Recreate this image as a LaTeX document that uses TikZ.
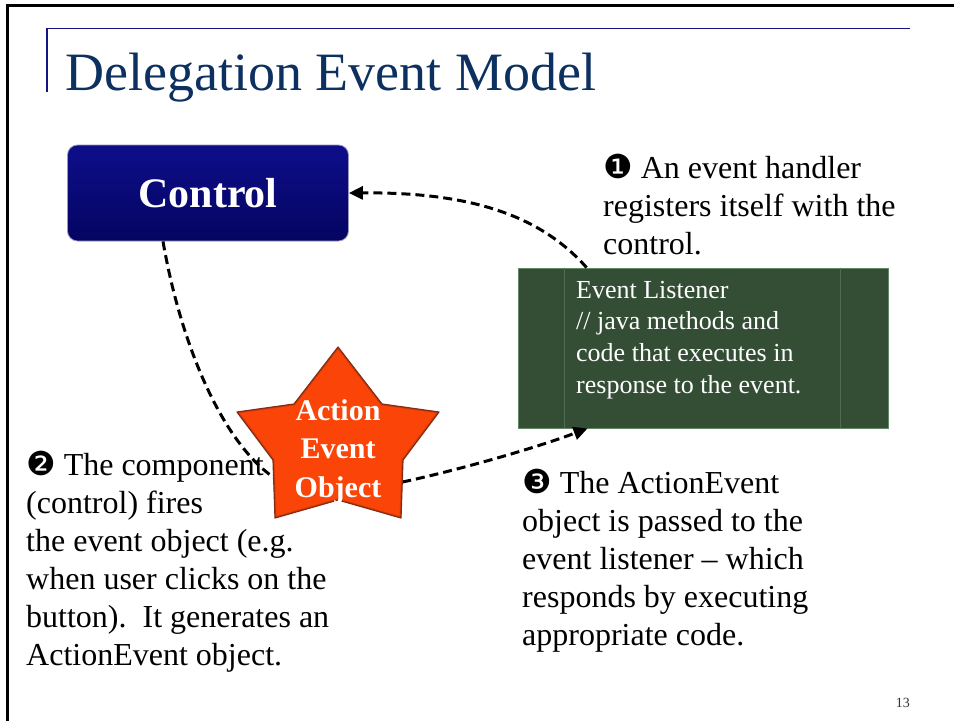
\documentclass[tikz,border=0pt]{standalone}
\usepackage{fontspec}
\setmainfont{Liberation Serif}
\newfontfamily\dingfont{DejaVu Sans}
\usetikzlibrary{arrows.meta,calc}

% colours of the slide
\definecolor{titleblue}{RGB}{12,48,96}
\definecolor{rulecol}{RGB}{20,20,130}
\definecolor{ctrltop}{RGB}{14,14,138}
\definecolor{ctrlbot}{RGB}{4,4,98}
\definecolor{ctrledge}{RGB}{150,150,190}
\definecolor{lstfill}{RGB}{52,78,54}
\definecolor{lstline}{RGB}{78,108,78}
\definecolor{lstedge}{RGB}{100,135,100}
\definecolor{starfill}{RGB}{250,68,8}
\definecolor{starrim}{RGB}{215,58,10}
\definecolor{staredge}{RGB}{130,45,20}

% stacked lines whose baseline is the baseline of the first line
\newcommand\leftlines[1]{\vtop{\halign{##\hfil\cr#1\crcr}}}
\newcommand\centerlines[1]{\vtop{\halign{\hfil##\hfil\cr#1\crcr}}}
\newcommand\numdot[1]{{\dingfont\fontsize{33}{33}\selectfont#1}}

\tikzset{
  bodytext/.style={anchor=base west, inner sep=0pt, font=\fontsize{32}{38}\selectfont},
  ctrlbox/.style={rounded corners=10pt, minimum width=281pt, minimum height=96pt,
    inner sep=0pt, top color=ctrltop, bottom color=ctrlbot, draw=ctrledge, line width=0.8pt,
    text=white, font=\bfseries\fontsize{42}{42}\selectfont},
  lstbox/.style={minimum width=370pt, minimum height=160pt, inner sep=0pt,
    fill=lstfill, draw=lstedge, line width=0.8pt},
  lstdivider/.style={draw=lstline, line width=1pt},
  starshape/.style={fill=starfill, draw=staredge, line width=1.2pt, line join=round},
  starbevel/.style={draw=starrim, line width=3pt, line join=round},
  dashlink/.style={line width=3pt, dash pattern=on 9pt off 5pt, black},
  arrowhead/.style={-{Triangle[length=14pt,width=13pt]}},
}

\begin{document}
\begin{tikzpicture}[x=1pt,y=-1pt]
\useasboundingbox (0,0) rectangle (954,721);
\fill[white] (0,0) rectangle (954,721);

% page frame
\draw[line width=2.5pt] (954,5.5) -- (7.5,5.5) -- (7.5,721);

% title rule and title
\draw[rulecol, line width=1.6pt] (910,28.5) -- (47,28.5) -- (47,92);
\node[anchor=base west, inner sep=0pt, text=titleblue, font=\fontsize{54}{54}\selectfont]
  (title) at (65,90) {Delegation Event Model};

% the control
\node[ctrlbox] (ctrl) at (208,193) {Control};

% the event listener
\node[lstbox] (lst) at (703,348) {};
\draw[lstdivider] ([xshift=47pt]lst.north west) -- ([xshift=47pt]lst.south west);
\draw[lstdivider] ([xshift=323pt]lst.north west) -- ([xshift=323pt]lst.south west);
\node[anchor=base west, inner sep=0pt, text=white, font=\fontsize{26}{31.7}\selectfont]
  (lsttext) at (576,298)
  {\leftlines{Event Listener\cr // java methods and\cr code that executes in\cr response to the event.}};

% corners of the star
\coordinate (sT)  at (338,347);
\coordinate (sUR) at (382,404);
\coordinate (sR)  at (439,412);
\coordinate (sLR) at (403,460);
\coordinate (sBR) at (401,518);
\coordinate (sB)  at (338,500);
\coordinate (sBL) at (275,518);
\coordinate (sLL) at (273,460);
\coordinate (sL)  at (237,412);
\coordinate (sUL) at (294,404);

% connectors
\draw[dashlink, arrowhead] ([xshift=69pt]lst.north west)
  .. controls (540,215) and (470,192) .. (ctrl.east);
\draw[dashlink] ([xshift=-45pt]ctrl.south)
  .. controls (180,340) and (220,440) .. ($(sLL)!0.3!(sBL)$);
\draw[dashlink, arrowhead] ($(sLR)!0.38!(sBR)$)
  .. controls (450,472) and (530,450) .. ([xshift=70pt]lst.south west);

% the action event object: flat fill, a darker bevel just inside the rim, then the outline
\fill[starfill] (sT) -- (sUR) -- (sR) -- (sLR) -- (sBR) -- (sB) -- (sBL) -- (sLL) -- (sL) -- (sUL) -- cycle;
\begin{scope}
  \clip (sT) -- (sUR) -- (sR) -- (sLR) -- (sBR) -- (sB) -- (sBL) -- (sLL) -- (sL) -- (sUL) -- cycle;
  \draw[starbevel] (sT) -- (sUR) -- (sR) -- (sLR) -- (sBR) -- (sB) -- (sBL) -- (sLL) -- (sL) -- (sUL) -- cycle;
\end{scope}
\draw[starshape, fill=none] (sT) -- (sUR) -- (sR) -- (sLR) -- (sBR) -- (sB) -- (sBL) -- (sLL) -- (sL) -- (sUL) -- cycle;
\node[anchor=base, inner sep=0pt, text=white, font=\bfseries\fontsize{30}{38.5}\selectfont]
  (aeo) at (338,420) {\centerlines{Action\cr Event\cr Object}};

% explanations
\node[bodytext] (note1) at (603,178)
  {\leftlines{\numdot{❶} An event handler\cr registers itself with the\cr control.}};
\node[bodytext] (note2) at (26,475)
  {\leftlines{\numdot{❷} The component\cr (control) fires\cr the event object (e.g.\cr when user clicks on the\cr button).\ \ It generates an\cr ActionEvent object.}};
\node[bodytext] (note3) at (522,493)
  {\leftlines{\numdot{❸} The ActionEvent\cr object is passed to the\cr event listener – which\cr responds by executing\cr appropriate code.}};

% page number
\node[anchor=base east, inner sep=0pt, text=black!80, font=\fontsize{14}{14}\selectfont]
  (pgno) at (910,707) {13};
\end{tikzpicture}
\end{document}
